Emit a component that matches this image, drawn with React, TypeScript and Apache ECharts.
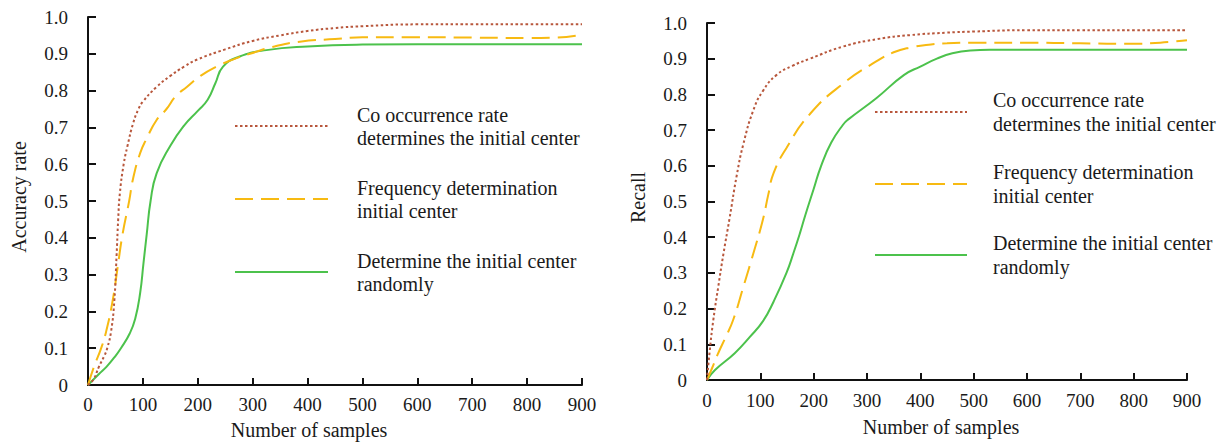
import React, { useEffect, useRef } from "react";
import * as echarts from "echarts";

// ---------- data ----------
const legendNames = [
  "Co occurrence rate\ndetermines the initial center",
  "Frequency determination\ninitial center",
  "Determine the initial center\nrandomly",
];
const xTicks = [0, 100, 200, 300, 400, 500, 600, 700, 800, 900];

// Left chart: Accuracy rate
const accCoX = [0, 10, 20, 30, 35, 42, 48, 52, 55, 58, 65, 72, 82, 92, 100, 125, 150, 175, 200, 250, 300, 350, 400, 450, 500, 600, 700, 800, 900];
const accCoY = [0, 0.015, 0.05, 0.08, 0.1, 0.145, 0.23, 0.35, 0.45, 0.52, 0.6, 0.65, 0.71, 0.75, 0.77, 0.81, 0.84, 0.865, 0.885, 0.912, 0.935, 0.95, 0.962, 0.97, 0.975, 0.98, 0.98, 0.98, 0.98];
const accFrX = [0, 11, 24, 33, 45, 54, 63, 75, 82, 95, 107, 125, 143, 160, 180, 205, 234, 265, 295, 340, 386, 450, 500, 600, 700, 800, 850, 900];
const accFrY = [0, 0.05, 0.1, 0.145, 0.23, 0.32, 0.41, 0.5, 0.56, 0.63, 0.67, 0.72, 0.75, 0.785, 0.81, 0.84, 0.865, 0.885, 0.9, 0.92, 0.933, 0.94, 0.945, 0.945, 0.944, 0.943, 0.944, 0.952];
const accRdX = [0, 20, 34, 48, 60, 76, 86, 95, 101, 107, 114, 125, 150, 175, 200, 218, 232, 246, 275, 325, 400, 500, 600, 700, 800, 900];
const accRdY = [0, 0.03, 0.05, 0.075, 0.1, 0.14, 0.18, 0.25, 0.33, 0.41, 0.5, 0.575, 0.65, 0.705, 0.745, 0.775, 0.82, 0.865, 0.892, 0.91, 0.92, 0.925, 0.926, 0.926, 0.926, 0.926];

// Right chart: Recall
const recCoX = [0, 5, 12, 21, 31, 42, 56, 68, 87, 105, 130, 160, 193, 255, 320, 380, 450, 500, 600, 700, 800, 900];
const recCoY = [0, 0.08, 0.17, 0.26, 0.355, 0.45, 0.575, 0.66, 0.756, 0.81, 0.854, 0.88, 0.9, 0.934, 0.955, 0.966, 0.973, 0.976, 0.98, 0.98, 0.98, 0.98];
const recFrX = [0, 10, 21, 35, 49, 68, 87, 105, 115, 125, 149, 193, 255, 318, 350, 380, 420, 450, 500, 600, 700, 800, 850, 900];
const recFrY = [0, 0.035, 0.075, 0.12, 0.168, 0.26, 0.355, 0.45, 0.52, 0.58, 0.65, 0.745, 0.83, 0.893, 0.918, 0.931, 0.94, 0.943, 0.945, 0.945, 0.943, 0.942, 0.945, 0.952];
const recRdX = [0, 15, 52, 80, 105, 125, 149, 162, 174, 184, 200, 214, 233, 255, 265, 318, 369, 400, 431, 460, 494, 530, 600, 700, 800, 900];
const recRdY = [0, 0.028, 0.075, 0.12, 0.165, 0.22, 0.3, 0.355, 0.41, 0.46, 0.535, 0.6, 0.665, 0.715, 0.73, 0.79, 0.854, 0.878, 0.9, 0.915, 0.923, 0.925, 0.925, 0.925, 0.925, 0.925];

const colors = ["#B8573C", "#F7BA12", "#4CC24C"];
const dashes: any[] = [[2.5, 2.5], [18, 8], "solid"];
const FONT = "Liberation Serif";
const TEXT = "#1a1a1a";

const pairs = (xs: number[], ys: number[]) => xs.map((x, i) => [x, ys[i]]);

function axisX(gridIndex: number, nameGap: number, margin: number, shift: number) {
  return {
    type: "value",
    gridIndex,
    min: 0,
    max: 900,
    interval: 100,
    name: "Number of samples",
    nameLocation: "middle",
    nameGap,
    nameTextStyle: { fontFamily: FONT, fontSize: 20, color: TEXT, padding: [0, shift * 2, 0, 0] },
    axisLine: { show: true, onZero: false, lineStyle: { color: "#111", width: 2 } },
    axisTick: { show: true, inside: true, length: 7, lineStyle: { color: "#111", width: 2 } },
    splitLine: { show: false },
    axisLabel: {
      fontFamily: FONT,
      fontSize: 19,
      color: TEXT,
      margin,
      formatter: (v: number) => (xTicks.includes(v) ? String(v) : ""),
    },
  };
}

function axisY(gridIndex: number, name: string, shift: number) {
  return {
    type: "value",
    gridIndex,
    min: 0,
    max: 1,
    interval: 0.1,
    name,
    nameLocation: "middle",
    nameGap: 59,
    nameRotate: 90,
    nameTextStyle: { fontFamily: FONT, fontSize: 20, color: TEXT, padding: [0, 0, 0, shift * 2] },
    axisLine: { show: true, lineStyle: { color: "#111", width: 2 } },
    axisTick: { show: true, inside: true, length: 8, lineStyle: { color: "#111", width: 2 } },
    splitLine: { show: false },
    axisLabel: {
      fontFamily: FONT,
      fontSize: 19,
      color: TEXT,
      margin: 20,
      formatter: (v: number) => (v === 0 ? "0" : v.toFixed(1)),
    },
  };
}

function lineSeries(idx: number, grid: number, data: number[][]) {
  return {
    type: "line",
    name: legendNames[idx],
    xAxisIndex: grid,
    yAxisIndex: grid,
    data,
    symbol: "none",
    showSymbol: false,
    smooth: 0.5,
    lineStyle: { color: colors[idx], width: 2, type: dashes[idx] },
    z: 3 - idx,
  };
}

function legendGraphic(x1: number, x2: number, textX: number, ys: number[], lineH: number) {
  const els: any[] = [];
  ys.forEach((y, i) => {
    els.push({
      type: "line",
      shape: { x1, y1: y, x2, y2: y },
      style: {
        stroke: colors[i],
        lineWidth: 2,
        lineDash: dashes[i] === "solid" ? null : dashes[i],
      },
    });
    els.push({
      type: "text",
      x: textX,
      y,
      style: {
        text: legendNames[i],
        fontFamily: FONT,
        fontSize: 20,
        fill: TEXT,
        lineHeight: lineH,
        verticalAlign: "middle",
        align: "left",
      },
    });
  });
  return els;
}

export default function App() {
  const ref = useRef<HTMLDivElement>(null);
  useEffect(() => {
    document.body.style.margin = "0";
    const chart = echarts.init(ref.current!, null, { renderer: "svg" });
    chart.setOption({
      animation: false,
      backgroundColor: "#ffffff",
      textStyle: { fontFamily: FONT },
      grid: [
        { left: 88, top: 17, width: 494, height: 369 },
        { left: 707, top: 23, width: 480, height: 357 },
      ],
      xAxis: [axisX(0, 35, 10, 26), axisX(1, 37, 11, 6)],
      yAxis: [axisY(0, "Accuracy rate", 4), axisY(1, "Recall", 4)],
      series: [
        lineSeries(0, 0, pairs(accCoX, accCoY)),
        lineSeries(1, 0, pairs(accFrX, accFrY)),
        lineSeries(2, 0, pairs(accRdX, accRdY)),
        lineSeries(0, 1, pairs(recCoX, recCoY)),
        lineSeries(1, 1, pairs(recFrX, recFrY)),
        lineSeries(2, 1, pairs(recRdX, recRdY)),
      ],
      graphic: [
        ...legendGraphic(235, 328, 357, [126, 199, 272], 23),
        ...legendGraphic(875, 967, 993, [112, 184, 255], 24),
      ],
    });
    return () => chart.dispose();
  }, []);
  return (
    <div
      ref={ref}
      style={{ position: "absolute", left: 0, top: 0, width: 1224, height: 445, background: "#fff" }}
    />
  );
}
